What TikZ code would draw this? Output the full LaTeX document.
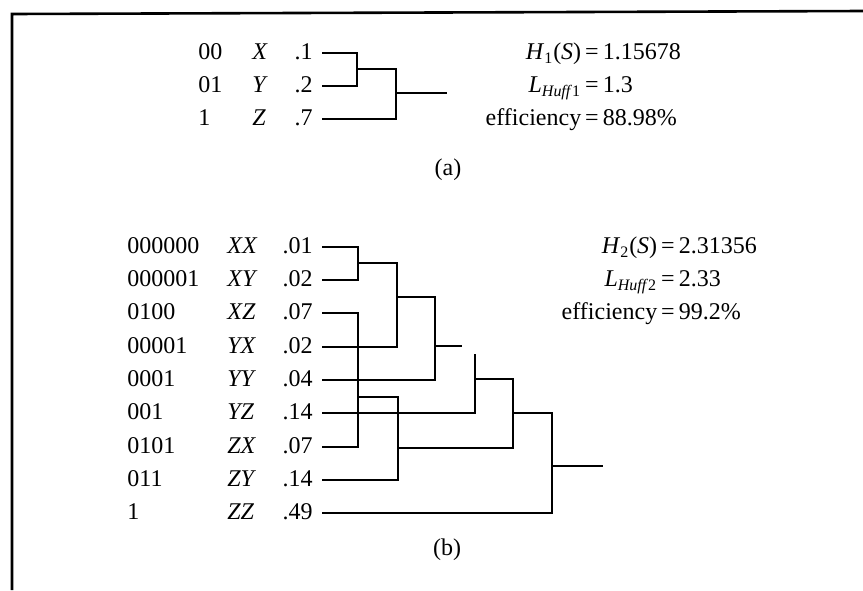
\documentclass[tikz,border=0pt]{standalone}
\usepackage{fontspec}
\setmainfont{Liberation Serif}
\usepackage{tikz}

\begin{document}
\begin{tikzpicture}[x=0.5pt, y=-0.5pt,
  every node/.style={font=\fontsize{12}{14}\selectfont},
  lbl/.style={anchor=west, inner sep=0pt, text height=0.68em, text depth=0pt},
  prob/.style={anchor=east, inner xsep=4.5pt, inner ysep=0pt, text height=0.68em, text depth=0pt},
  eqn/.style={inner sep=0pt, text height=0.68em, text depth=0pt},
  tree/.style={line width=1.2pt},
  frame/.style={line width=1.3pt}]
  \useasboundingbox (0,0) rectangle (863,590);
  % ---------- frame ----------
  \draw[frame] (12,590) -- (12,14) -- (863,11);
  % ---------- (a) single symbols ----------
  \foreach \code/\sym/\p/\y in {00/X/.1/53, 01/Y/.2/86, 1/Z/.7/119} {
    \node[lbl] (c\sym) at (198,\y) {\code};
    \node[lbl] (s\sym) at (252,\y) {\textit{\sym}};
    \node[prob] (p\sym) at (322,\y) {\p};
  }
  \coordinate (ja1) at (357,69);
  \coordinate (ja2) at (396,93);
  \coordinate (roota) at (447,93);
  \draw[tree] (pX.east) -| (ja1) |- (pY.east);
  \draw[tree] (ja1) -| (ja2) |- (pZ.east);
  \draw[tree] (ja2) -- (roota);
  \node[eqn] (ha) at (592,53) {\llap{\textit{H}\textsubscript{1}(\textit{S})\,}=\rlap{\,1.15678}};
  \node[eqn] (la) at (592,86) {\llap{\textit{L}\textsubscript{\textit{Huff}1}\,}=\rlap{\,1.3}};
  \node[eqn] (ea) at (592,119) {\llap{efficiency\,}=\rlap{\,88.98\%}};
  \node (capa) at (448,170) {(a)};
  % ---------- (b) pairs of symbols ----------
  \foreach \code/\sym/\p/\y in {000000/XX/.01/247, 000001/XY/.02/280, 0100/XZ/.07/313,
      00001/YX/.02/347, 0001/YY/.04/380, 001/YZ/.14/413, 0101/ZX/.07/447,
      011/ZY/.14/480, 1/ZZ/.49/513} {
    \node[lbl] (c\sym) at (127,\y) {\code};
    \node[lbl] (s\sym) at (227,\y) {\textit{\sym}};
    \node[prob] (p\sym) at (322,\y) {\p};
  }
  \coordinate (j1) at (358,263);
  \coordinate (j2) at (397,297);
  \coordinate (j3) at (435,346);
  \coordinate (stub) at (462,346);
  \coordinate (j4) at (358,397);
  \coordinate (t5) at (475,354);
  \coordinate (j5) at (475,379);
  \coordinate (j6) at (398,448);
  \coordinate (j7) at (513,413);
  \coordinate (j8) at (552,466);
  \coordinate (rootb) at (603,466);
  \draw[tree] (pXX.east) -| (j1) |- (pXY.east);
  \draw[tree] (j1) -| (j2) |- (pYX.east);
  \draw[tree] (j2) -| (j3) |- (pYY.east);
  \draw[tree] (j3) -- (stub);
  \draw[tree] (pXZ.east) -| (j4) |- (pZX.east);
  \draw[tree] (t5) -- (j5) |- (pYZ.east);
  \draw[tree] (j4) -| (j6) |- (pZY.east);
  \draw[tree] (j5) -| (j7) |- (j6);
  \draw[tree] (j7) -| (j8) |- (pZZ.east);
  \draw[tree] (j8) -- (rootb);
  \node[eqn] (hb) at (668,247) {\llap{\textit{H}\textsubscript{2}(\textit{S})\,}=\rlap{\,2.31356}};
  \node[eqn] (lb) at (668,280) {\llap{\textit{L}\textsubscript{\textit{Huff}2}\,}=\rlap{\,2.33}};
  \node[eqn] (eb) at (668,313) {\llap{efficiency\,}=\rlap{\,99.2\%}};
  \node (capb) at (447,550) {(b)};
\end{tikzpicture}
\end{document}
